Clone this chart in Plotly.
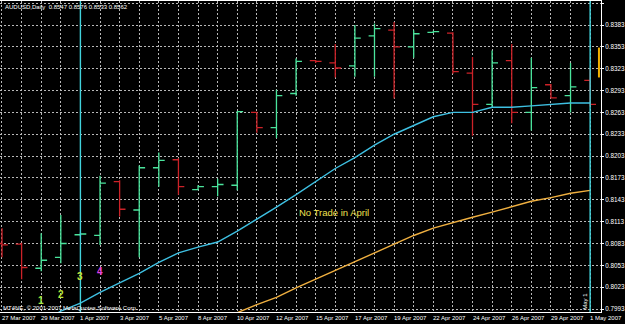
import plotly.graph_objects as go

# ---------------- data ----------------
bar_dates = ["27 Mar 2007", "28 Mar 2007", "29 Mar 2007", "30 Mar 2007",
             "1 Apr 2007", "2 Apr 2007", "3 Apr 2007", "4 Apr 2007", "5 Apr 2007", "6 Apr 2007",
             "8 Apr 2007", "9 Apr 2007", "10 Apr 2007", "11 Apr 2007", "12 Apr 2007", "13 Apr 2007",
             "15 Apr 2007", "16 Apr 2007", "17 Apr 2007", "18 Apr 2007", "19 Apr 2007", "20 Apr 2007",
             "22 Apr 2007", "23 Apr 2007", "24 Apr 2007", "25 Apr 2007", "26 Apr 2007", "27 Apr 2007",
             "29 Apr 2007", "30 Apr 2007", "1 May 2007"]
bar_idx = list(range(len(bar_dates)))

opens = [0.8083, 0.8082, 0.8049, 0.8064, 0.8095, 0.8094, 0.8168, 0.8129, 0.8187, 0.8198,
         0.8157, 0.8161, 0.8163, 0.8263, 0.8242, 0.8289, 0.8334, 0.8331, 0.8327, 0.8368,
         0.8376, 0.8353, 0.8373, 0.8372, 0.8317, 0.8274, 0.8334, 0.8263, 0.8301, 0.8286, 0.8307]
highs = [0.8104, 0.8084, 0.8097, 0.8122, 0.8098, 0.8176, 0.8170, 0.8190, 0.8208, 0.8200,
         0.8163, 0.8172, 0.8265, 0.8264, 0.8294, 0.8337, 0.8335, 0.8357, 0.8383, 0.8385,
         0.8387, 0.8376, 0.8375, 0.8373, 0.8339, 0.8348, 0.8357, 0.8338, 0.8302, 0.8331, 0.8323]
lows = [0.8064, 0.8034, 0.8045, 0.8056, 0.8093, 0.8081, 0.8120, 0.8064, 0.8161, 0.8150,
        0.8156, 0.8148, 0.8156, 0.8235, 0.8228, 0.8286, 0.8331, 0.8311, 0.8312, 0.8312,
        0.8282, 0.8338, 0.8372, 0.8316, 0.8231, 0.8270, 0.8248, 0.8238, 0.8282, 0.8263, 0.8271]
closes = [0.8081, 0.8050, 0.8060, 0.8083, 0.8096, 0.8166, 0.8130, 0.8187, 0.8197, 0.8161,
          0.8161, 0.8164, 0.8264, 0.8242, 0.8286, 0.8333, 0.8333, 0.8324, 0.8365, 0.8378,
          0.8353, 0.8371, 0.8374, 0.8319, 0.8274, 0.8331, 0.8263, 0.8297, 0.8283, 0.8298, 0.8274]

ma_fast = [None, None, 0.7975, 0.7990, 0.8001, 0.8016, 0.8029, 0.8042, 0.8057, 0.8070,
           0.8078, 0.8085, 0.8100, 0.8116, 0.8133, 0.8150, 0.8168, 0.8186, 0.8201, 0.8218,
           0.8233, 0.8245, 0.8257, 0.8263, 0.8263, 0.8270, 0.8270, 0.8272, 0.8274, 0.8276, 0.8276]
ma_slow = [None] * 11 + [0.7975, 0.7988, 0.7999, 0.8009, 0.8022, 0.8034, 0.8046, 0.8059, 0.8071,
                         0.8083, 0.8094, 0.8104, 0.8112, 0.8119, 0.8126, 0.8134, 0.8141, 0.8146,
                         0.8152, 0.8156]

price_ticks = [0.7993 + 0.003 * k for k in range(15)]
price_labels = ["%.4f" % v for v in price_ticks]

label_idx = list(range(0, 31, 2))
separator_idx = [4, 30]

marker_texts = ["1", "2", "3", "4"]
marker_idx = [2, 3, 4, 5]
marker_price = [0.8005, 0.8013, 0.8037, 0.8045]
marker_colors = ["#a8e83c", "#b8e83c", "#c8e83c", "#e040e0"]

level_x = [30.45, 30.45]
level_y = [0.8311, 0.8352]

title_text = "AUDUSD,Daily  0.8547 0.8576 0.8533 0.8562"
copyright_text = "MT4NE, © 2001-2007 MetaQuotes Software Corp."
note_text = "No Trade in April"

# ---------------- figure ----------------
GREEN = "#4ae49c"
RED = "#cc2228"
CYAN = "#3ec0e2"
SEP = "#42d2dc"
ORANGE = "#f0b040"
FONT = "Liberation Sans"

fig = go.Figure()

fig.add_trace(go.Scatter(x=bar_idx, y=ma_fast, mode="lines",
                         line=dict(color=CYAN, width=1.4), hoverinfo="skip"))
fig.add_trace(go.Scatter(x=bar_idx, y=ma_slow, mode="lines",
                         line=dict(color=ORANGE, width=1.4), hoverinfo="skip"))

fig.add_trace(go.Ohlc(x=bar_idx, open=opens, high=highs, low=lows, close=closes,
                      increasing=dict(line=dict(color=GREEN, width=1.3)),
                      decreasing=dict(line=dict(color=RED, width=1.3)),
                      tickwidth=0.3, hoverinfo="skip"))

fig.add_trace(go.Scatter(x=level_x, y=level_y, mode="lines",
                         line=dict(color="#f0b000", width=2), hoverinfo="skip"))

for s in separator_idx:
    fig.add_shape(type="line", xref="x", yref="paper", x0=s, x1=s, y0=0, y1=1,
                  line=dict(color=SEP, width=1.4), layer="above")

annotations = []
for i in label_idx:
    annotations.append(dict(x=i, y=0, xref="x", yref="paper", text=bar_dates[i],
                            showarrow=False, xanchor="left", yanchor="top",
                            xshift=-2, yshift=-1,
                            font=dict(family=FONT, size=6, color="#ffffff")))

for t, xi, yp, c in zip(marker_texts, marker_idx, marker_price, marker_colors):
    annotations.append(dict(x=xi, y=yp, xref="x", yref="y", text="<b>%s</b>" % t,
                            showarrow=False,
                            font=dict(family=FONT, size=10, color=c)))

annotations.append(dict(x=16.93, y=0.81258, xref="x", yref="y", text=note_text,
                        showarrow=False, font=dict(family=FONT, size=9.5, color="#f0e050")))
annotations.append(dict(x=0, y=1, xref="paper", yref="paper", text=title_text,
                        showarrow=False, xanchor="left", yanchor="top", xshift=3, yshift=-1,
                        font=dict(family=FONT, size=6, color="#ffffff")))
annotations.append(dict(x=0, y=0, xref="paper", yref="paper", text=copyright_text,
                        showarrow=False, xanchor="left", yanchor="bottom", xshift=1, yshift=-1,
                        font=dict(family=FONT, size=6, color="#ffffff")))
annotations.append(dict(x=29.74, y=0.8003, xref="x", yref="y", text="May 1",
                        showarrow=False, textangle=-90,
                        font=dict(family=FONT, size=6, color="#ffffff")))

fig.update_layout(
    width=625, height=324,
    margin=dict(l=0, r=22, t=0, b=12),
    paper_bgcolor="#000000", plot_bgcolor="#000000",
    showlegend=False,
    annotations=annotations,
    xaxis=dict(range=[-0.1017, 30.554], tickmode="array", tickvals=bar_idx,
               showticklabels=False, ticks="", showgrid=True,
               gridcolor="#b8b8b8", gridwidth=1, griddash="2px,2px",
               zeroline=False, showline=True, mirror=True, linecolor="#ffffff",
               linewidth=1, rangeslider=dict(visible=False), fixedrange=True),
    yaxis=dict(range=[0.79889, 0.84160], side="right", tickmode="array",
               tickvals=price_ticks, ticktext=price_labels,
               ticks="outside", ticklen=2, tickcolor="#ffffff",
               tickfont=dict(family=FONT, size=6.3, color="#ffffff"),
               showgrid=True, gridcolor="#b8b8b8", gridwidth=1, griddash="2px,2px",
               zeroline=False, showline=True, linecolor="#ffffff", linewidth=1,
               fixedrange=True),
)

fig.write_html("out.html", config={"displayModeBar": False})
